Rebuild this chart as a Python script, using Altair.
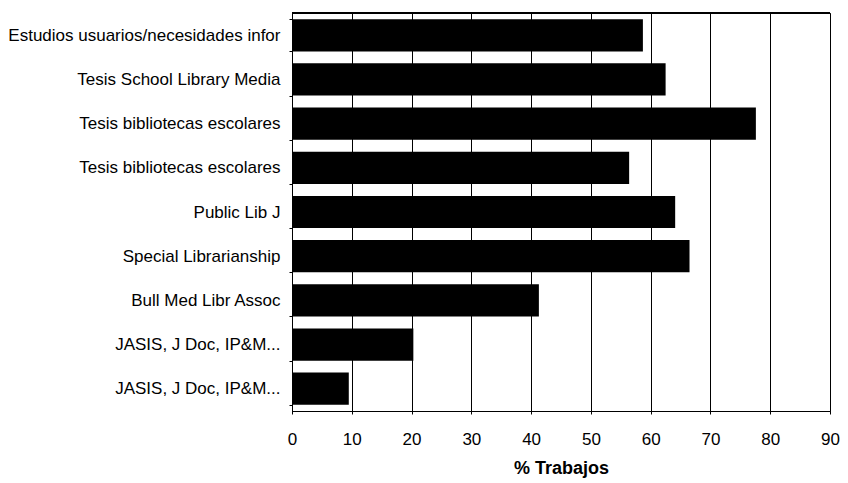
import altair as alt
import pandas as pd

categories = [
    "Estudios usuarios/necesidades infor",
    "Tesis School Library Media",
    "Tesis bibliotecas escolares",
    "Tesis bibliotecas escolares",
    "Public Lib J",
    "Special Librarianship",
    "Bull Med Libr Assoc",
    "JASIS, J Doc, IP&M...",
    "JASIS, J Doc, IP&M...",
]
values = [58.7, 62.5, 77.6, 56.4, 64.1, 66.5, 41.3, 20.3, 9.5]
x_ticks = [0, 10, 20, 30, 40, 50, 60, 70, 80, 90]

df = pd.DataFrame({
    "idx": list(range(len(categories))),
    "cat": categories,
    "val": values,
})

label_map = "{" + ",".join(f"'{i}':'{c}'" for i, c in enumerate(categories)) + "}"

font = "Liberation Sans"

bars = alt.Chart(df).mark_bar(color="black").encode(
    x=alt.X("val:Q",
            scale=alt.Scale(domain=[0, 90], nice=False),
            axis=alt.Axis(values=x_ticks, title="% Trabajos", grid=True,
                          gridColor="black", gridWidth=1, gridOpacity=1,
                          domainColor="black", tickColor="black", tickSize=3,
                          labelFlush=False,
                          labelPadding=17, labelFontSize=17, labelColor="black",
                          labelFont=font, titleFont=font, titleFontSize=18,
                          titleFontWeight="bold", titleColor="black", titlePadding=12)),
    y=alt.Y("idx:O",
            sort=None,
            scale=alt.Scale(paddingInner=0.27, paddingOuter=0.14),
            axis=alt.Axis(title=None, labelExpr=f"{label_map}[datum.value]",
                          labelFont=font, labelFontSize=17, labelColor="black",
                          labelPadding=9, tickBand="extent", tickSize=3,
                          tickColor="black", domainColor="black",
                          labelLimit=400)),
)

top_rule = alt.Chart(df).mark_rule(color="black", strokeWidth=1).encode(
    y=alt.value(0)
)

chart = alt.layer(bars, top_rule).properties(
    width=538,
    height=398,
    padding={"left": 284, "top": 5, "right": 10, "bottom": 72},
    autosize=alt.AutoSizeParams(type="none"),
).configure(
    background="white",
    view={"stroke": "black", "strokeWidth": 1},
)

chart.save("out.html", embed_options={"renderer": "svg", "actions": False})
